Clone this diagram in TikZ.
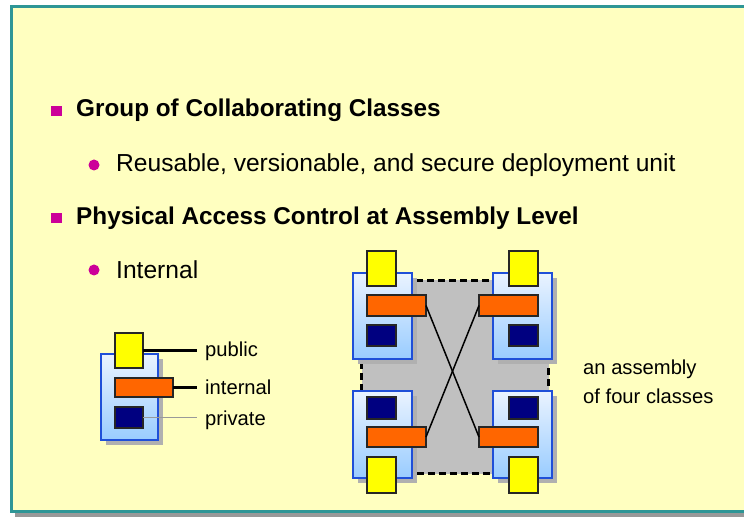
\documentclass[tikz,border=0pt]{standalone}
\usepackage{fontspec}
\setmainfont{Liberation Sans}
\definecolor{slidebg}{HTML}{FFFFC0}
\definecolor{frameteal}{HTML}{2E9696}
\definecolor{framesh}{HTML}{999999}
\definecolor{bulletmag}{HTML}{CC0099}
\definecolor{clsyellow}{HTML}{FFFF00}
\definecolor{clsorange}{HTML}{FF6600}
\definecolor{clsnavy}{HTML}{000080}
\definecolor{boxedge}{HTML}{1F4FD8}
\definecolor{boxtop}{HTML}{EAF3FF}
\definecolor{boxbot}{HTML}{99CCFF}
\definecolor{areagray}{HTML}{C0C0C0}
\definecolor{boxshadow}{HTML}{B0B0B0}
\tikzset{
  member/.style={draw=black!85, line width=1.2pt, anchor=north west, inner sep=0pt, outer sep=0pt},
  yel/.style={member, fill=clsyellow},
  ora/.style={member, fill=clsorange},
  nav/.style={member, fill=clsnavy},
  bluebox/.style={draw=boxedge, line width=1.4pt, anchor=north west, inner sep=0pt, outer sep=0pt,
    top color=boxtop, bottom color=boxbot},
  shad/.style={fill=boxshadow, draw=none, anchor=north west, inner sep=0pt, outer sep=0pt},
  head/.style={anchor=base west, inner sep=0pt, font=\fontsize{24.3}{28}\selectfont\bfseries},
  sub/.style={anchor=base west, inner sep=0pt, font=\fontsize{24.6}{28}\selectfont},
  lbl/.style={anchor=base west, inner sep=0pt, font=\fontsize{20.2}{24}\selectfont},
  sqbullet/.style={fill=bulletmag, draw=none, anchor=north west, inner sep=0pt, minimum width=11pt, minimum height=10pt},
  dotbullet/.style={fill=bulletmag, draw=none, circle, inner sep=0pt, minimum size=11pt},
  wire/.style={draw=black, line width=3pt},
  thinwire/.style={draw=black!40, line width=0.6pt},
  cross/.style={draw=black, line width=1.5pt},
}
\begin{document}
\begin{tikzpicture}[x=1pt, y=-1pt]
\useasboundingbox (0,0) rectangle (744,518);
\clip (0,0) rectangle (744,518);
\fill[white] (0,0) rectangle (744,518);
% slide frame
\fill[framesh] (15,12) rectangle (770,517);
\draw[frameteal, line width=3pt, fill=slidebg] (11,7) rectangle (765,511);

% text
\node[sqbullet] (b1) at (51,106) {};
\node[head] (t1) at (76,117) {Group of Collaborating Classes};
\node[dotbullet] (b2) at (94,165) {};
\node[sub] (t2) at (116,172) {Reusable, versionable, and secure deployment unit};
\node[sqbullet] (b3) at (51,213) {};
\node[head] (t3) at (76,225) {Physical Access Control at Assembly Level};
\node[dotbullet] (b4) at (94,270) {};
\node[sub] (t4) at (116,279) {Internal};

% small legend class
\node[shad, minimum width=57pt, minimum height=86pt] (ssh) at (106,359) {};
\node[bluebox, minimum width=57pt, minimum height=86pt] (sb) at (101,354) {};
\node[yel, minimum width=28pt, minimum height=35pt] (sy) at (115,333) {};
\node[ora, minimum width=58pt, minimum height=19pt] (so) at (115,378) {};
\node[nav, minimum width=28pt, minimum height=21pt] (sn) at (115,407) {};
\coordinate (cpub) at (197,350.5);
\coordinate (cint) at (197,387.5);
\coordinate (cpriv) at (197,417.5);
\draw[wire] (sy.east) -- (cpub);
\draw[wire] (so.east) -- (cint);
\draw[thinwire] (sn.east) -- (cpriv);
\node[lbl] (lpub) at (205,357) {public};
\node[lbl] (lint) at (205,394) {internal};
\node[lbl] (lpriv) at (205,425) {private};

% assembly area
\node[fill=areagray, draw=black, line width=3pt, dash pattern=on 7pt off 4pt,
  anchor=north west, inner sep=0pt, minimum width=187pt, minimum height=193pt] (area) at (360,279) {};

% shadows
\node[shad, minimum width=59pt, minimum height=86pt] (tlsh) at (358,278) {};
\node[shad, minimum width=59pt, minimum height=86pt] (trsh) at (498,278) {};
\node[shad, minimum width=59pt, minimum height=87pt] (blsh) at (358,396) {};
\node[shad, minimum width=59pt, minimum height=87pt] (brsh) at (498,396) {};

% top-left class
\node[bluebox, minimum width=59pt, minimum height=86pt] (tlb) at (353,273) {};
\node[yel, minimum width=29pt, minimum height=35pt] (tly) at (367,251) {};
\node[ora, minimum width=59pt, minimum height=21pt] (tlo) at (367,295) {};
\node[nav, minimum width=29pt, minimum height=21pt] (tln) at (367,325) {};
% top-right class
\node[bluebox, minimum width=59pt, minimum height=86pt] (trb) at (493,273) {};
\node[yel, minimum width=29pt, minimum height=35pt] (try) at (509,251) {};
\node[ora, minimum width=59pt, minimum height=21pt] (tro) at (479,295) {};
\node[nav, minimum width=29pt, minimum height=21pt] (trn) at (509,325) {};
% bottom-left class
\node[bluebox, minimum width=59pt, minimum height=87pt] (blb) at (353,391) {};
\node[nav, minimum width=29pt, minimum height=22pt] (bln) at (367,397) {};
\node[ora, minimum width=59pt, minimum height=20pt] (blo) at (367,427) {};
\node[yel, minimum width=29pt, minimum height=36pt] (bly) at (367,457) {};
% bottom-right class
\node[bluebox, minimum width=59pt, minimum height=87pt] (brb) at (493,391) {};
\node[nav, minimum width=29pt, minimum height=22pt] (brn) at (509,397) {};
\node[ora, minimum width=59pt, minimum height=20pt] (bro) at (479,427) {};
\node[yel, minimum width=29pt, minimum height=36pt] (bry) at (509,457) {};

% crossing connections
\draw[cross] (tlo.east) -- (bro.west);
\draw[cross] (tro.west) -- (blo.east);

% caption
\node[lbl] (cap1) at (583,374) {an assembly};
\node[lbl] (cap2) at (583,403) {of four classes};
\end{tikzpicture}
\end{document}
